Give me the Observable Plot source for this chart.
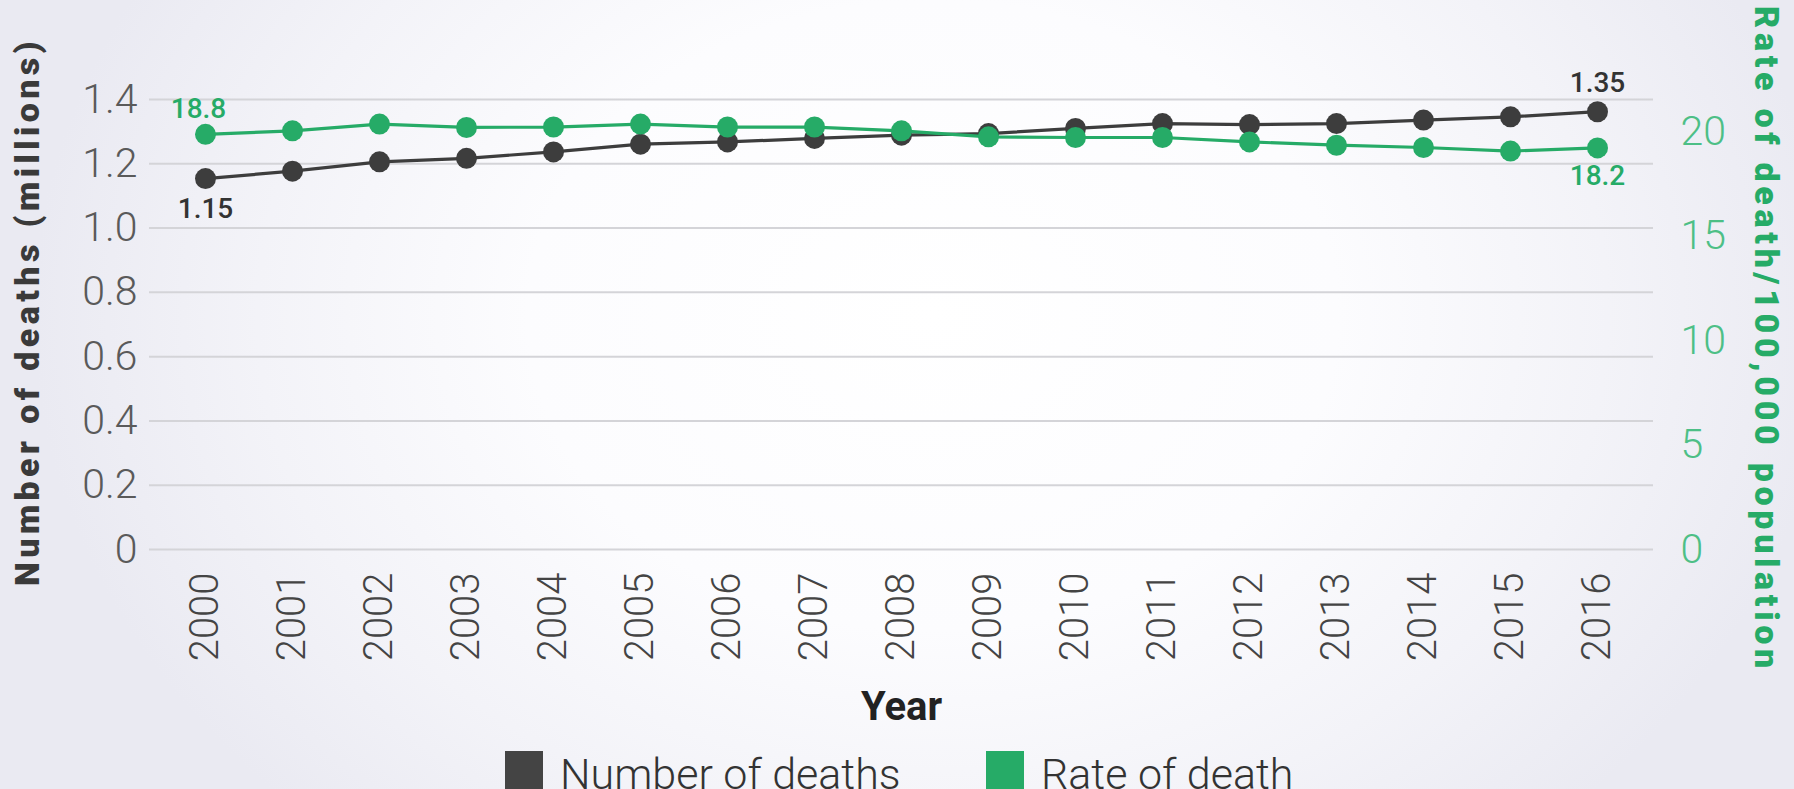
<!DOCTYPE html>
<html><head><meta charset="utf-8">
<script src="https://cdn.jsdelivr.net/npm/d3@7"></script>
<script src="https://cdn.jsdelivr.net/npm/@observablehq/plot@0.6"></script>
<style>
html,body{margin:0;padding:0;width:1794px;height:789px;overflow:hidden;}
body{position:relative;font-family:Roboto,sans-serif;
  background-color:#ececf3;
  background-image:radial-gradient(ellipse 900px 700px at 52% 40%, #ffffff 0%, #fcfcfe 45%, #f3f3f8 75%, #eaeaf2 100%);}
#chart{position:absolute;left:0;top:0;}
.lg{position:absolute;top:751px;display:flex;align-items:flex-start;font-family:Roboto,sans-serif;font-weight:300;font-size:43px;color:#333;line-height:1;white-space:nowrap;}
.lg .sw{display:inline-block;width:38px;height:42px;margin-right:17px;}
.lg .tx{margin-top:2px;}
</style></head><body>
<div id="chart"></div>
<div id="legend"></div>
<script>
const years = [2000,2001,2002,2003,2004,2005,2006,2007,2008,2009,2010,2011,2012,2013,2014,2015,2016];
const deaths = [1.154,1.177,1.206,1.217,1.237,1.261,1.268,1.279,1.289,1.294,1.310,1.325,1.322,1.325,1.336,1.346,1.362];
const rates = [19.87,20.04,20.36,20.20,20.22,20.36,20.22,20.22,20.04,19.75,19.72,19.72,19.51,19.35,19.24,19.07,19.22];
const deathEndLabels = ["1.15","1.35"];
const rateEndLabels = ["18.8","18.2"];
const leftTicks = [0,0.2,0.4,0.6,0.8,1.0,1.2,1.4];
const rightTicks = [0,5,10,15,20];
const seriesNames = ["Number of deaths","Rate of death"];
const seriesColors = ["#3d3d3d","#26ab67"];
const leftTitle = "Number of deaths (millions)";
const rightTitle = "Rate of death/100,000 population";
const xTitle = "Year";

const K = 0.065; // right-axis unit expressed on the left scale
const data = years.map((y,i)=>({year:y, deaths:deaths[i], rate:rates[i], rateY:rates[i]*K}));
const first = [data[0]], last = [data[data.length-1]];

const plot = Plot.plot({
  width:1794, height:735,
  marginLeft:149, marginRight:141, marginTop:99, marginBottom:186,
  style:{background:"transparent", fontFamily:"Roboto, sans-serif", fontSize:"40px", overflow:"visible"},
  x:{type:"point", domain:years, padding:0.556},
  y:{domain:[0,1.4]},
  marks:[
    Plot.gridY(leftTicks,{stroke:"#d4d4d8", strokeOpacity:1, strokeWidth:2}),
    Plot.axisY(leftTicks,{tickSize:0, tickPadding:12, tickFormat:d=>d===0?"0":d.toFixed(1), fontSize:41, fontWeight:300, color:"#5a5a5a", label:null}),
    Plot.axisY(rightTicks.map(t=>t*K),{anchor:"right", tickSize:0, tickPadding:27, tickFormat:d=>String(Math.round(d/K)), fontSize:41, fontWeight:300, color:"#4dbf86", label:null}),
    Plot.axisX({tickSize:0, tickPadding:23, tickRotate:-90, tickFormat:d=>String(d), fontSize:40, fontWeight:300, color:"#444", label:null}),
    Plot.line(data,{x:"year", y:"deaths", stroke:seriesColors[0], strokeWidth:3.2}),
    Plot.dot(data,{x:"year", y:"deaths", r:10.5, fill:seriesColors[0]}),
    Plot.line(data,{x:"year", y:"rateY", stroke:seriesColors[1], strokeWidth:3.2}),
    Plot.dot(data,{x:"year", y:"rateY", r:10.5, fill:seriesColors[1]}),
    Plot.text(first,{x:"year", y:"rateY", text:()=>rateEndLabels[0], lineAnchor:"bottom", dy:-16, dx:-7, fill:seriesColors[1], fontSize:28, fontWeight:500}),
    Plot.text(last,{x:"year", y:"rateY", text:()=>rateEndLabels[1], lineAnchor:"top", dy:17, fill:seriesColors[1], fontSize:28, fontWeight:500}),
    Plot.text(first,{x:"year", y:"deaths", text:()=>deathEndLabels[0], lineAnchor:"top", dy:20, fill:"#333", fontSize:28, fontWeight:500}),
    Plot.text(last,{x:"year", y:"deaths", text:()=>deathEndLabels[1], lineAnchor:"bottom", dy:-20, fill:"#333", fontSize:28, fontWeight:500}),
    Plot.text([leftTitle],{frameAnchor:"left", textAnchor:"middle", lineAnchor:"middle", rotate:-90, dx:-121, dy:-13, fill:"#3a3a3a", fontSize:34, fontWeight:900}),
    Plot.text([rightTitle],{frameAnchor:"right", textAnchor:"middle", lineAnchor:"middle", rotate:90, dx:112, dy:15, fill:seriesColors[1], fontSize:34, fontWeight:900}),
    Plot.text([xTitle],{frameAnchor:"bottom", lineAnchor:"bottom", dy:170, fill:"#222", fontSize:40, fontWeight:700})
  ]
});
const svgTexts = d3.select(plot).selectAll("text");
svgTexts.filter(function(){ return this.textContent === leftTitle; }).attr("letter-spacing","4.4px").style("letter-spacing","4.4px");
svgTexts.filter(function(){ return this.textContent === rightTitle; }).attr("letter-spacing","4.7px").style("letter-spacing","4.7px");
document.getElementById("chart").appendChild(plot);

const legendLefts = [505, 986];
const lg = document.getElementById("legend");
seriesNames.forEach((name,i)=>{
  const d = document.createElement("div");
  d.className = "lg";
  d.style.left = legendLefts[i] + "px";
  const sw = document.createElement("span"); sw.className="sw"; sw.style.background = i===0 ? "#444" : seriesColors[1];
  const tx = document.createElement("span"); tx.className="tx"; tx.textContent = name;
  d.appendChild(sw); d.appendChild(tx);
  lg.appendChild(d);
});
</script>
</body></html>
